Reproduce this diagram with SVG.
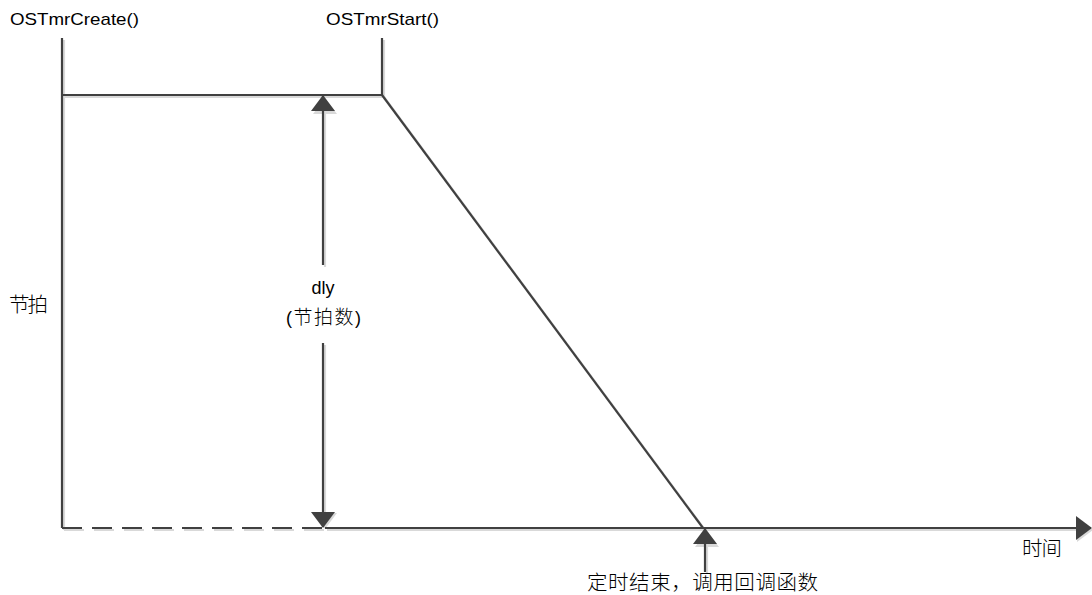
<svg xmlns="http://www.w3.org/2000/svg" width="1092" height="595" viewBox="0 0 1092 595">
<defs>
<marker id="big" markerWidth="16" markerHeight="24" refX="15" refY="12" orient="auto" markerUnits="userSpaceOnUse" viewBox="0 0 16 24"><path d="M0,0 L16,12 L0,24 z" fill="#404040"/></marker>
<marker id="bigs" markerWidth="16" markerHeight="24" refX="15" refY="12" orient="auto" markerUnits="userSpaceOnUse" viewBox="0 0 16 24"><path d="M0,0 L16,12 L0,24 z" fill="#d9d9d9"/></marker>
</defs>
<style>
.ln{stroke:#404040;stroke-width:2.2;fill:none}
.sh{stroke:#d9d9d9;stroke-width:2.2;fill:none}
.dash{stroke-dasharray:20 10}
text{font-family:"Liberation Sans","Noto Sans CJK SC",sans-serif;font-size:17px;fill:#000}
.cjk{font-family:"Noto Sans CJK SC",sans-serif;font-size:20.5px;font-weight:300}
</style>
<rect width="1092" height="595" fill="#fff"/>
<g id="connectors">
<g transform="translate(2,2)">
<path class="sh" d="M62,38 V528"/>
<path class="sh" d="M62,95 H382 V38"/>
<path class="sh" d="M382,95 L703,528"/>
<path class="sh dash" d="M62,528 H325"/>
<path class="sh" d="M325,528 H1090" marker-end="url(#bigs)"/>
<path class="sh" d="M323,265 V97" marker-end="url(#bigs)"/>
<path class="sh" d="M323,343 V526" marker-end="url(#bigs)"/>
<path class="sh" d="M705,572 V530" marker-end="url(#bigs)"/>
</g>
<path class="ln" d="M62,38 V528"/>
<path class="ln" d="M62,95 H382 V38"/>
<path class="ln" d="M382,95 L703,528"/>
<path class="ln dash" d="M62,528 H325"/>
<path class="ln" d="M325,528 H1091" marker-end="url(#big)"/>
<path class="ln" d="M323,265 V96" marker-end="url(#big)"/>
<path class="ln" d="M323,343 V527" marker-end="url(#big)"/>
<path class="ln" d="M705,572 V529" marker-end="url(#big)"/>
</g>
<g id="label-create"><text x="10" y="25" textLength="129" lengthAdjust="spacingAndGlyphs">OSTmrCreate()</text></g>
<g id="label-start"><text x="326" y="25" textLength="113" lengthAdjust="spacingAndGlyphs">OSTmrStart()</text></g>
<g id="label-tick"><text class="cjk" x="9" y="312" textLength="39">节拍</text></g>
<g id="label-dly"><text x="323" y="294" text-anchor="middle" style="font-size:18px">dly</text><text x="286" y="324" textLength="75" style="font-size:18px">(<tspan class="cjk" style="font-size:19px">节拍数</tspan>)</text></g>
<g id="label-time"><text class="cjk" x="1022" y="556" textLength="40">时间</text></g>
<g id="label-end"><text class="cjk" x="587" y="590" textLength="231">定时结束，调用回调函数</text></g>
</svg>
